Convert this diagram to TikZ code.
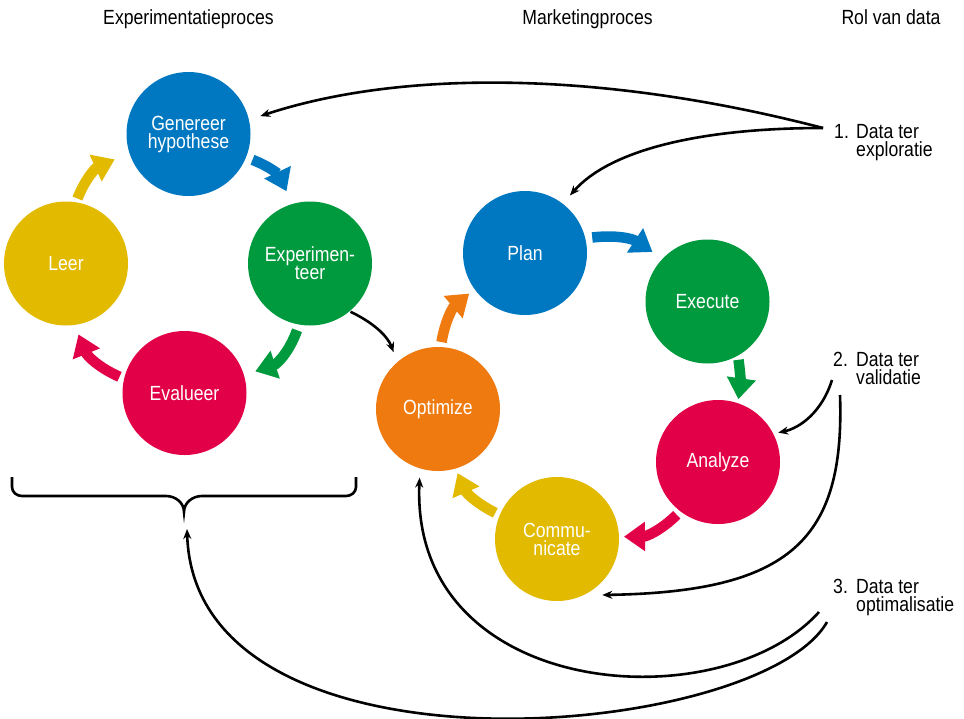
\documentclass[tikz,border=0pt]{standalone}
\usepackage{fontspec}
\setmainfont{Liberation Sans}[FakeStretch=0.86]
\usetikzlibrary{arrows.meta,calc}

\definecolor{cblue}{RGB}{0,120,193}
\definecolor{cgreen}{RGB}{0,154,62}
\definecolor{cred}{RGB}{226,0,72}
\definecolor{cyellow}{RGB}{226,186,0}
\definecolor{corange}{RGB}{239,123,16}

\newcommand\lblfont{\fontsize{20.5}{18}\selectfont}

\tikzset{
  stage/.style={circle, minimum size=124pt, inner sep=0pt, fill=#1,
    text=white, align=center, font=\lblfont},
  fat/.style={line width=10.5pt, draw=#1, -{Triangle[length=21pt,width=28pt]}},
  link/.style={line width=2.6pt, -{Stealth[length=10pt,width=8pt]}},
  heading/.style={anchor=base, inner sep=0pt, font=\lblfont},
  datalabel/.style={anchor=north west, inner sep=0pt, align=left, font=\lblfont},
}

\begin{document}
\begin{tikzpicture}[x=1pt,y=1pt]
\useasboundingbox (0,0) rectangle (964,-718);
\fill[white] (0,0) rectangle (964,-718);

% column headings
\node[heading] (h1) at (188.5,-24) {Experimentatieproces};
\node[heading] (h2) at (587.5,-24) {Marketingproces};
\node[heading] (h3) at (891,-24) {Rol van data};

% experimentation cycle
\node[stage=cblue]   (gen)  at (188.5,-134) {Genereer\\hypothese};
\node[stage=cgreen]  (exp)  at (310,-263.5) {Experimen-\\teer};
\node[stage=cred]    (eval) at (184.5,-393) {Evalueer};
\node[stage=cyellow] (leer) at (66,-263.5)  {Leer};

% marketing cycle
\node[stage=cblue]   (plan) at (525,-253)   {Plan};
\node[stage=cgreen]  (exe)  at (707.5,-301.5) {Execute};
\node[stage=cred]    (ana)  at (718,-462)   {Analyze};
\node[stage=cyellow] (com)  at (557,-539)   {Commu-\\nicate};
\node[stage=corange] (opt)  at (438,-409)   {Optimize};

% cycle arrows
\draw[fat=cblue]   ($(gen)+(-22:69)$)  to[bend left=22] ($(exp)+(108:76)$);
\draw[fat=cgreen]  ($(exp)+(-101:68)$) to[bend left=26] ($(eval)+(17:74)$);
\draw[fat=cred]    ($(eval)+(166:67)$) to[bend left=22] ($(leer)+(-80:72)$);
\draw[fat=cyellow] ($(leer)+(80:66)$)  to[bend left=22] ($(gen)+(-161:78)$);

\draw[fat=cblue]   ($(plan)+(13:69)$)  to[bend left=20] ($(exe)+(138:74)$);
\draw[fat=cgreen]  ($(exe)+(-62:66)$)  to[bend left=8]  ($(ana)+(72:66)$);
\draw[fat=cred]    ($(ana)+(-128:67)$) to[bend left=22] ($(com)+(2:67)$);
\draw[fat=cyellow] ($(com)+(157:67)$)  to[bend left=20] ($(opt)+(-73:67)$);
\draw[fat=corange] ($(opt)+(87:67)$)   to[bend left=20] ($(plan)+(-144:69)$);

% brace under the experimentation cycle
\coordinate (brace) at (184,-512);
\draw[line width=2.6pt]
  (12,-477) -- (12,-487) to[out=-90,in=180] (22,-496) -- (166,-496)
  to[out=0,in=90] (brace) to[out=90,in=180] (202,-496) -- (346,-496)
  to[out=0,in=-90] (356,-487) -- (356,-477);

% data labels
\node[datalabel] (l1) at (834,-124) {\makebox[22pt][l]{1.}Data ter\\\hspace*{22pt}exploratie};
\node[datalabel] (l2) at (833,-352) {\makebox[23pt][l]{2.}Data ter\\\hspace*{23pt}validatie};
\node[datalabel] (l3) at (833,-579) {\makebox[23pt][l]{3.}Data ter\\\hspace*{23pt}optimalisatie};

\coordinate (d1)  at (823,-128);
\coordinate (d2a) at (832,-380);
\coordinate (d2b) at (840,-395);
\coordinate (d3a) at (819,-612);
\coordinate (d3b) at (827,-622);

% data for exploration
\draw[link] (d1) .. controls (600,-70) and (400,-70) .. ($(gen)+(14:74)$);
\draw[link] (d1) .. controls (700,-128) and (610,-150) .. ($(plan)+(52:73)$);

% experiment feeds optimisation
\draw[link] ($(exp)+(-50:63)$) .. controls (372,-322) and (387,-335) .. ($(opt)+(128:72)$);

% data for validation
\draw[link] (d2a) .. controls (822,-412) and (800,-428) .. ($(ana)+(26:67)$);
\draw[link] (d2b) .. controls (845,-540) and (790,-592) .. ($(com)+(-51:72)$);

% data for optimisation
\draw[link] (d3a) .. controls (720,-722) and (410,-700) .. ($(opt)+(-105:71)$);
\draw[link] (d3b) .. controls (760,-740) and (195,-790) .. ($(brace)+(3,-17)$);
\end{tikzpicture}
\end{document}
